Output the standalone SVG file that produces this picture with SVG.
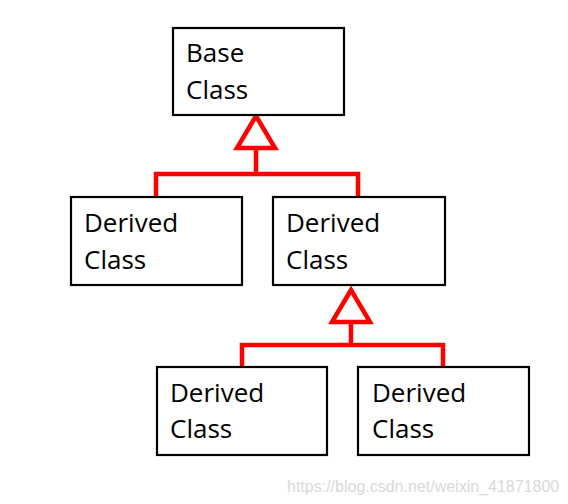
<svg xmlns="http://www.w3.org/2000/svg" width="568" height="504" viewBox="0 0 568 504">
<style>
.box{fill:#fff;stroke:#000;stroke-width:2.2}
.t{font-family:"Open Sans","DejaVu Sans",sans-serif;font-size:26px;fill:#000}
.c{fill:none;stroke:#f00;stroke-width:4.5}
.wm{font-family:"Liberation Sans",Arial,sans-serif;font-size:16px;fill:#d9d9d9}
</style>
<rect width="568" height="504" fill="#fff"/>
<g id="connectors">
<polygon class="c" points="256,116 237,148 275,148"/>
<polyline class="c" points="256,148 256,174"/>
<polyline class="c" points="156,197 156,174 358,174 358,197"/>
<polygon class="c" points="351,290 332,322 370,322"/>
<polyline class="c" points="351,322 351,345"/>
<polyline class="c" points="242,367 242,345 443,345 443,367"/>
</g>
<g id="base">
<rect class="box" x="173" y="28" width="171" height="87"/>
<text class="t" x="186" y="62">Base</text>
<text class="t" x="186" y="99">Class</text>
</g>
<g id="derived1">
<rect class="box" x="71" y="197" width="171" height="88"/>
<text class="t" x="84" y="232">Derived</text>
<text class="t" x="84" y="269">Class</text>
</g>
<g id="derived2">
<rect class="box" x="273" y="197" width="172" height="88"/>
<text class="t" x="286" y="232">Derived</text>
<text class="t" x="286" y="269">Class</text>
</g>
<g id="derived3">
<rect class="box" x="157" y="367" width="170" height="88"/>
<text class="t" x="170" y="402">Derived</text>
<text class="t" x="170" y="438">Class</text>
</g>
<g id="derived4">
<rect class="box" x="358" y="367" width="171" height="88"/>
<text class="t" x="372" y="402">Derived</text>
<text class="t" x="372" y="438">Class</text>
</g>
<text class="wm" x="287" y="492">https://blog.csdn.net/weixin_41871800</text>
</svg>
